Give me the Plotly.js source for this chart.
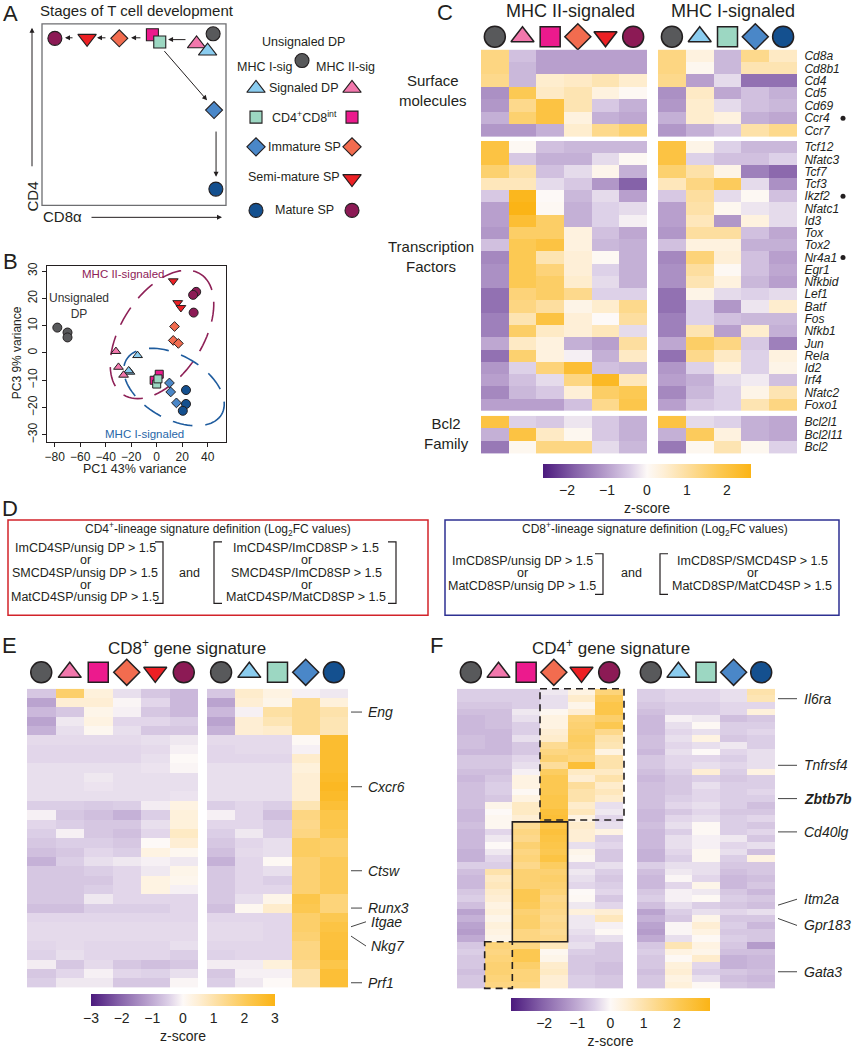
<!DOCTYPE html>
<html><head><meta charset="utf-8">
<script src="https://cdn.plot.ly/plotly-3.0.1.min.js"></script>
<style>body{margin:0;background:#fff}#chart{width:853px;height:1050px}</style>
</head><body><div id="chart"></div>
<script>
// ===================== DATA =====================
// Panel A – schematic stage positions (CD8α level, CD4 level on a 0–100 scale)
const aStageKeys = ['unsig','sigDP2','sigDP1','int2','int1','imm2','semi2','mat2','imm1','mat1'];
const aStageCD8  = [93, 84, 90, 60, 64, 42, 24.5, 7, 93.5, 94.5];
const aStageCD4  = [94.5, 89, 85, 94, 90, 92, 92, 92, 52.5, 9];
const aArrowFromCD8 = [17.4, 35.3, 54.3, 78.8, 65.8, 94.6];
const aArrowFromCD4 = [92.3, 92.3, 92.3, 91.3, 85.8, 41.5];
const aArrowToCD8   = [12.5, 29.9, 48.4, 68.5, 89.7, 94.6];
const aArrowToCD4   = [92.3, 92.3, 92.3, 91.3, 57.9, 15.8];
const aLegendRows  = ['Signaled DP','CD4<sup>+</sup>CD8<sup>int</sup>','Immature SP','Semi-mature SP','Mature SP'];
const aLegendMHCI  = ['sigDP1','int1','imm1',null,'mat1'];
const aLegendMHCII = ['sigDP2','int2','imm2','semi2','mat2'];

// Panel B – PCA
const bGroups = ['unsig','sigDP1','sigDP2','int2','int1','imm1','imm2','mat1','semi2','mat2'];
const bPC1 = [[-78,-70,-70],[-15,-21,-22],[-32,-30,-26],[2,-2],[0,1],[10,11,15.5],[14,13,17],[23,23,20.5],[13,16.5,19],[31,28.6,29]];
const bPC3 = [[9.3,7.5,5.7],[-0.9,-7,-6.5],[0.6,-5.2,-8.1],[-7.8,-10],[-11.4,-9.5],[-11,-14.3,-18.3],[9.7,4.6,3.5],[-13.6,-18.7,-21.2],[26.4,18.4,16.6],[22.4,21.3,14.8]];

// Panel C – z-scores
const cSurfaceGenes = ['Cd8a','Cd8b1','Cd4','Cd5','Cd69','Ccr4','Ccr7'];
const cTFGenes = ['Tcf12','Nfatc3','Tcf7','Tcf3','Ikzf2','Nfatc1','Id3','Tox','Tox2','Nr4a1','Egr1','Nfkbid','Lef1','Batf','Fos','Nfkb1','Jun','Rela','Id2','Irf4','Nfatc2','Foxo1'];
const cBcl2Genes = ['Bcl2l1','Bcl2l11','Bcl2'];
const cMarkedGenes = ['Ccr4','Ikzf2','Nr4a1'];
const cUnsigDP = [1.3,1.3,1.2,-1.2,-1.1,-0.8,-1.1, 2.0,2.0,1.5,0.7,-0.5,-1.0,-1.0,-1.1,-0.6,-1.3,-1.2,-1.2,-1.6,-1.6,-1.4,-1.4,-0.9,-1.6,-1.1,-1.0,-1.3,-1.0, 2.0,-0.8,-1.5];
const cMHCII = [
 [-0.6,-1.0,-1.0,-1.0,-1.0],[-0.7,-1.0,-1.0,-1.0,-1.0],[-0.7,0.5,0.6,0.8,0.5],[1.8,0.6,0.8,0.3,0.05],[1.2,2.0,0.8,-0.5,-0.8],[1.5,2.0,0.3,-0.8,-0.9],[-1.1,-0.8,0.5,1.2,1.5],
 [0.05,-0.6,-0.7,-0.7,-0.7],[-0.5,-0.8,-0.8,-0.3,0.05],[0.9,-0.6,-0.3,0.15,-0.8],[0.7,-0.3,-0.5,-1.1,-1.8],[2.5,0.0,-0.7,-0.3,-1.0],[2.6,0.05,-0.8,-0.4,-0.3],[2.2,1.6,-0.8,-0.4,-0.1],[1.6,1.6,0.3,-0.6,-0.9],[1.8,2.0,0.3,-0.7,-0.8],[1.8,0.8,0.4,0.05,-0.8],[1.8,1.4,0.4,-0.4,-0.8],[1.8,1.6,0.5,-0.3,-0.8],[1.4,1.6,1.2,-0.4,-0.4],[1.3,1.0,0.2,0.5,1.2],[0.8,2.0,0.4,0.0,1.0],[1.6,0.6,0.4,0.7,-0.3],[0.6,0.3,-0.8,-1.0,1.0],[1.5,0.3,-0.1,-0.8,0.6],[-0.4,1.4,2.2,-0.6,-0.7],[-0.6,-0.3,1.3,2.4,0.7],[-0.7,-0.5,0.4,1.6,1.8],[-1.0,-1.0,-0.6,1.2,1.9],
 [-0.4,-0.5,-0.2,-0.5,-0.8],[2.0,0.6,0.1,-0.5,-0.8],[0.1,1.3,1.3,-0.3,-0.7]];
const cMHCI = [
 [0.3,-0.7,1.2,0.6],[0.1,-0.7,0.8,0.8],[-1.0,-0.3,-1.6,-1.6],[0.6,-0.9,-0.6,-0.8],[0.5,-0.3,-0.6,-0.7],[0.5,0.3,-0.8,-0.9],[-0.8,-0.5,0.9,1.2],
 [0.2,-0.4,-0.7,-0.7],[-0.4,-0.6,-0.6,-0.4],[0.9,0.2,-1.4,-1.7],[1.3,1.7,-0.3,-1.2],[1.0,-0.3,0.05,-0.6],[0.9,0.1,-0.2,-0.3],[0.7,-1.1,0.3,-0.3],[1.0,1.0,-0.6,-0.9],[0.3,0.3,-0.8,-0.8],[1.4,0.4,-0.6,-1.0],[1.0,0.05,-0.6,-0.9],[0.8,0.3,-0.7,-1.0],[0.2,-0.3,-0.4,-0.3],[-0.4,-1.1,-0.2,0.5],[-0.4,-0.6,-0.7,-0.7],[0.8,-1.0,0.5,-0.8],[1.6,1.3,-0.5,-1.4],[1.2,0.6,-0.4,0.3],[-0.4,0.3,-0.4,0.2],[-0.8,-0.3,-0.15,-0.6],[-0.7,-0.4,0.2,0.8],[-0.5,-0.4,0.8,1.3],
 [-0.3,-0.4,-0.8,-0.9],[1.7,0.3,-0.8,-0.9],[0.1,0.8,0.1,-0.4]];

// Panel E – CD8+ gene signature z-scores
const eLabelGenes = ['Eng','Cxcr6','Ctsw','Runx3','Itgae','Nkg7','Prf1'];
const eLabelRows  = [2,10,19,23,25,26,31];
const eUnsigDP = [-0.6,-1.1,-0.8,-1.1,-0.9,-0.35,-0.4,-0.4,-0.3,-0.3,-0.3,-0.3,-0.5,-0.1,-0.4,-0.5,-0.6,-0.7,-0.9,-0.6,-0.6,-0.6,-0.6,-0.7,-0.4,-0.35,-0.35,-0.4,-0.45,-0.15,-0.6,-0.5];
const eMHCII = [[1.8,0.4,-0.3,-0.6,-0.8],[0.5,0.5,-0.05,-0.4,-0.8],[-0.6,0.2,-0.1,-0.6,-0.8],[-0.2,0.3,-0.4,-0.4,-0.5],[-0.3,0.1,-0.3,-0.6,-0.6],[-0.35,-0.35,-0.35,-0.3,-0.2],[-0.4,-0.4,-0.4,-0.35,-0.1],[-0.4,-0.4,-0.4,-0.3,0.0],[-0.3,-0.3,-0.3,-0.25,-0.05],[-0.3,-0.2,-0.3,-0.3,-0.3],[-0.3,-0.25,-0.3,-0.3,-0.3],[-0.3,-0.3,-0.3,-0.3,-0.25],[-0.5,-0.55,-0.5,-0.15,0.3],[-0.6,-0.7,-0.9,-0.5,0.4],[-0.5,-0.6,-0.6,-0.3,0.4],[-0.1,-0.6,-0.7,-0.4,0.7],[-0.5,-0.5,-0.6,0.0,0.5],[-0.6,-0.4,-0.5,0.3,0.1],[-0.5,-0.3,-0.2,-0.1,-0.2],[-0.6,-0.5,-0.4,-0.2,0.2],[-0.6,-0.6,-0.4,0.3,0.15],[-0.6,-0.5,-0.4,0.3,-0.1],[-0.6,-0.2,-0.4,-0.4,-0.4],[-0.7,-0.5,-0.5,-0.5,-0.4],[-0.4,-0.4,-0.4,-0.4,-0.4],[-0.35,-0.35,-0.35,-0.35,-0.35],[-0.35,-0.35,-0.35,-0.35,-0.35],[-0.35,-0.4,-0.4,-0.4,-0.3],[-0.3,-0.4,-0.4,-0.4,-0.5],[-0.6,-0.35,-0.6,-0.7,-0.6],[-0.4,-0.1,-0.4,-0.45,-0.3],[-0.2,-0.2,-0.6,-0.6,-0.05]];
const eMHCI = [[0.6,0.3,-0.1,-0.2],[0.5,0.2,1.3,0.4],[-0.1,1.1,1.3,1.0],[0.5,0.9,1.3,0.9],[0.5,0.6,1.3,0.9],[-0.35,-0.35,0.05,2.6],[-0.35,-0.35,-0.1,2.6],[-0.4,-0.4,0.6,2.6],[-0.3,-0.3,0.4,2.6],[-0.3,-0.3,0.5,2.7],[-0.3,-0.3,0.5,2.8],[-0.3,-0.3,0.5,2.7],[-0.4,-0.5,0.9,2.5],[-0.4,-0.7,1.5,2.2],[-0.4,-0.5,1.4,2.2],[-0.2,-0.5,1.5,2.1],[-0.4,-0.3,1.9,1.8],[-0.35,-0.3,1.9,1.8],[-0.4,0.05,1.7,2.0],[-0.4,-0.3,1.7,2.0],[-0.4,-0.5,1.7,2.0],[-0.4,-0.4,1.7,2.0],[-0.3,0.2,2.2,1.6],[0.1,0.6,2.1,1.6],[-0.4,-0.4,1.8,2.1],[-0.35,-0.4,1.8,2.3],[-0.35,-0.4,1.7,2.4],[-0.4,-0.4,1.5,2.4],[-0.4,-0.4,1.5,2.5],[-0.15,0.4,1.4,2.2],[-0.1,-0.1,1.0,2.5],[-0.2,0.0,1.0,2.5]];

// Panel F – CD4+ gene signature z-scores
const fLabelGenes = ['Il6ra','Tnfrsf4','Zbtb7b','Cd40lg','Itm2a','Gpr183','Gata3'];
const fLabelRows  = [1,11,16,21,32,34,42];
const fUnsigDP = [-0.5,-0.5,-0.6,-0.7,-0.8,-0.8,-0.8,-0.7,-0.7,-0.8,-0.6,-0.6,-0.7,-0.8,-0.7,-0.7,-0.7,-0.7,-0.8,-0.8,-0.7,-0.8,-0.8,-0.8,-0.9,-0.9,-0.5,-0.7,-0.8,-0.8,-0.6,-0.5,-0.7,-1.1,-0.9,-1.1,-1.2,-1.0,-0.6,-0.5,-0.6,-0.6,-0.7,-0.6,-0.6];
const fMHCII = [[-0.5,-0.5,-0.2,0.3,1.6],[-0.5,-0.5,-0.3,0.6,2.0],[-0.6,-0.5,-0.3,0.2,2.2],[-0.7,-0.2,0.1,0.5,2.2],[-0.7,-0.3,0.3,1.6,1.8],[-0.7,-0.5,0.3,1.7,2.1],[-0.8,-0.5,0.5,1.8,1.4],[-0.8,-0.3,0.6,1.9,1.0],[-0.8,-0.6,1.3,1.8,0.9],[-0.8,-0.6,1.5,1.6,0.3],[-0.6,-0.4,1.7,1.5,1.0],[-0.6,-0.3,1.2,2.5,1.0],[-0.7,-0.1,1.9,0.7,0.7],[-0.6,0.3,2.1,0.5,1.0],[-0.5,0.3,2.1,1.2,0.6],[-0.5,0.05,2.1,1.0,0.8],[-0.6,0.3,2.2,1.0,0.6],[0.2,0.7,2.2,0.6,-0.3],[0.0,0.7,2.4,0.8,-0.2],[0.1,0.5,2.5,0.3,-0.4],[0.1,1.3,2.2,0.6,-0.3],[-0.4,1.5,2.4,0.5,0.3],[-0.2,1.4,2.3,0.5,-0.5],[0.0,1.7,2.2,-0.3,-0.4],[-0.2,1.5,2.1,0.2,-0.6],[-0.4,1.6,2.3,0.1,-0.6],[-0.5,1.4,1.9,-0.4,-0.3],[1.0,1.7,1.7,-0.2,-0.5],[0.7,1.7,1.8,-0.3,-0.6],[0.8,1.7,1.7,-0.4,-0.5],[0.6,2.1,1.6,0.0,-0.4],[0.5,2.1,1.4,0.05,-0.6],[0.3,2.0,1.5,-0.2,-0.4],[0.4,1.7,1.4,0.4,0.5],[0.2,1.8,1.3,-0.2,0.8],[0.4,1.8,1.4,-0.2,-0.1],[0.3,1.5,1.3,-0.3,0.05],[0.2,1.5,1.4,-0.4,-0.3],[1.6,1.5,0.8,-0.3,-0.6],[1.5,2.1,0.1,-0.5,-0.6],[1.6,2.1,0.2,-0.6,-0.6],[1.7,1.8,0.6,-0.6,-0.7],[1.7,1.6,0.7,-0.6,-0.7],[1.6,1.6,0.5,-0.5,-0.6],[1.5,1.5,0.5,-0.5,-0.6]];
const fMHCI = [[-0.4,-0.4,-0.3,1.0],[-0.4,-0.4,-0.3,0.9],[-0.5,-0.5,-0.4,-0.4],[-0.5,-0.5,-0.4,0.4],[-0.1,-0.2,-0.7,-0.6],[-0.3,0.05,-0.5,-0.5],[-0.4,-0.3,-0.5,-0.4],[-0.3,0.3,-0.6,-0.5],[-0.4,-0.3,-0.2,-0.5],[-0.3,0.0,-0.4,-0.3],[-0.4,-0.4,-0.5,-0.3],[-0.4,-0.3,-0.4,-0.3],[-0.5,0.5,-0.5,0.3],[-0.6,-0.5,-0.6,-0.5],[-0.6,-0.3,-0.5,-0.5],[-0.6,-0.4,-0.5,-0.4],[-0.5,-0.4,-0.5,-0.5],[-0.4,-0.3,-0.5,-0.7],[-0.6,-0.4,-0.6,-0.6],[-0.4,-0.3,-0.5,-0.4],[-0.3,0.05,-0.5,-0.6],[-0.5,0.05,-0.5,-0.4],[-0.3,-0.1,-0.2,-0.6],[-0.3,-0.1,-0.4,-0.3],[-0.4,0.1,-0.3,-0.7],[-0.5,0.1,-0.5,0.3],[-0.3,-0.3,-0.6,-0.6],[-0.2,-0.3,-0.7,-0.6],[-0.05,-0.4,-0.8,-0.7],[-0.4,0.2,-0.8,-0.6],[-0.1,-0.2,-0.6,-0.8],[-0.1,0.05,-0.5,-0.6],[-0.3,-0.5,-0.6,-0.7],[-0.5,-0.3,-0.4,-0.3],[-0.6,0.2,-0.6,-0.6],[-0.05,0.5,-0.5,-0.8],[-0.05,0.3,-0.6,-0.6],[-0.3,0.05,-0.5,-0.6],[0.9,0.3,-0.6,-1.2],[0.3,0.2,-0.7,-0.7],[0.05,0.6,-0.9,-0.8],[0.4,-0.4,-0.9,-0.8],[0.5,-0.5,-0.6,-0.7],[0.3,-0.3,-0.7,-0.8],[0.4,0.05,-0.6,-0.7]];
const fBoxCols = [[3,5],[2,3],[1,1]];
const fBoxRows = [[0,19],[20,37],[38,44]];

// ===================== STYLE / LAYOUT =====================
const SYM = {
 unsig:{s:'circle',c:'#58595B'}, sigDP2:{s:'triangle-up',c:'#F277AC'}, int2:{s:'square',c:'#EC1A8D'},
 imm2:{s:'diamond',c:'#F26C4F'}, semi2:{s:'triangle-down',c:'#ED2024'}, mat2:{s:'circle',c:'#8C1A55'},
 sigDP1:{s:'triangle-up',c:'#8ACCEF'}, int1:{s:'square',c:'#9CD7C2'}, imm1:{s:'diamond',c:'#4A87C8'}, mat1:{s:'circle',c:'#14508F'}
};
const mhc2Cols = ['unsig','sigDP2','int2','imm2','semi2','mat2'];
const mhc1Cols = ['unsig','sigDP1','int1','imm1','mat1'];
const CS = [[0,'#4B1A7D'],[0.15,'#8460A8'],[0.3,'#B59CCB'],[0.42,'#DCCFE7'],[0.5,'#FDF9F7'],[0.58,'#FEEFD6'],[0.7,'#FDDD9B'],[0.85,'#FCC851'],[1,'#FBB416']];
const INK = '#231F20';
const W=853,H=1050;
const PX=x=>x/W, PY=y=>1-y/H;
const FONT='Liberation Sans, Arial, Helvetica, sans-serif';
const layout={width:W,height:H,margin:{l:0,r:0,t:0,b:0,pad:0},paper_bgcolor:'#fff',plot_bgcolor:'rgba(0,0,0,0)',
  showlegend:false,font:{family:FONT,color:INK,size:12},shapes:[],annotations:[]};
const traces=[];
let nAx=0;
function axes(x0,x1,y0,y1,xo,yo){
  nAx++; const s=nAx===1?'':String(nAx);
  const base={showgrid:false,zeroline:false,showticklabels:false,ticks:'',showline:false,fixedrange:true};
  layout['xaxis'+s]=Object.assign({},base,{domain:[PX(x0),PX(x1)],anchor:'y'+s},xo||{});
  layout['yaxis'+s]=Object.assign({},base,{domain:[PY(y1),PY(y0)],anchor:'x'+s},yo||{});
  return {x:'x'+s,y:'y'+s,x0,x1,y0,y1};
}
function text(x,y,t,o){layout.annotations.push(Object.assign({xref:'paper',yref:'paper',x:PX(x),y:PY(y),text:t,showarrow:false,xanchor:'center',yanchor:'middle',font:{size:12}},o||{}));}
function seg(x0,y0,x1,y1,o){layout.shapes.push(Object.assign({type:'line',xref:'paper',yref:'paper',x0:PX(x0),y0:PY(y0),x1:PX(x1),y1:PY(y1),line:{color:INK,width:1}},o||{}));}
function rect(x0,y0,x1,y1,line){layout.shapes.push({type:'rect',xref:'paper',yref:'paper',x0:PX(x0),y0:PY(y0),x1:PX(x1),y1:PY(y1),line,fillcolor:'rgba(0,0,0,0)'});}
function poly(pts,line){layout.shapes.push({type:'path',xref:'paper',yref:'paper',path:'M'+pts.map(p=>PX(p[0])+','+PY(p[1])).join(' L'),line});}
function markers(ax,xs,ys,keys,sizes,lw){
  traces.push({type:'scatter',mode:'markers',xaxis:ax.x,yaxis:ax.y,x:xs,y:ys,cliponaxis:false,hoverinfo:'skip',
    marker:{opacity:1,symbol:keys.map(k=>SYM[k].s),color:keys.map(k=>SYM[k].c),size:keys.map(k=>sizes[SYM[k].s]),line:{color:INK,width:lw}}});
}
function heat(x0,x1,y0,y1,z,zr,yo,cb){
  const nR=z.length,nC=z[0].length;
  const ax=axes(x0,x1,y0,y1,{range:[-0.5,nC-0.5]},Object.assign({range:[nR-0.5,-0.5]},yo||{}));
  const t={type:'heatmap',xaxis:ax.x,yaxis:ax.y,z,x:[...Array(nC).keys()],y:[...Array(nR).keys()],
    colorscale:CS,zmin:-zr,zmax:zr,showscale:!!cb,hoverinfo:'skip'};
  if(cb) t.colorbar=cb;
  traces.push(t);
  return Object.assign(ax,{nR,nC,rowH:(y1-y0)/nR,colW:(x1-x0)/nC});
}
function cbar(xc,ytop,len,thick,ticks){
  return {orientation:'h',x:PX(xc),xanchor:'center',y:PY(ytop),yanchor:'top',len,lenmode:'pixels',thickness:thick,
    thicknessmode:'pixels',outlinewidth:0,ticks:'',tickvals:ticks,tickfont:{size:14},
    title:{text:'z-score',side:'bottom',font:{size:14}},xpad:0,ypad:0};
}
const HDR = {circle:21,'triangle-up':20,'triangle-down':20,square:20,diamond:20};
// whole-page canvas axis (pixel coordinates) for legend / header symbols
const cv = axes(0,853,0,1050,{range:[0,853]},{range:[1050,0]});
function headerSymbols(hm,keys,yPx){
  markers(cv,keys.map((_,k)=>hm.x0+(k+0.5)*hm.colW),keys.map(()=>yPx),keys,HDR,1.5);
}

// ---------- Panel A ----------
text(10,14,'A',{font:{size:22}});
text(137,11,'Stages of T cell development',{font:{size:15}});
const aAx = axes(42,226,24,207,{range:[0,100]},{range:[0,100]});
rect(42,24,226,207,{color:'#6D6E71',width:1.3});
markers(aAx,aStageCD8,aStageCD4,aStageKeys,{circle:14,square:12,diamond:13,'triangle-up':16,'triangle-down':16},1.1);
aArrowFromCD8.forEach((_,i)=>layout.annotations.push({xref:aAx.x,yref:aAx.y,axref:aAx.x,ayref:aAx.y,
  x:aArrowToCD8[i],y:aArrowToCD4[i],ax:aArrowFromCD8[i],ay:aArrowFromCD4[i],text:'',showarrow:true,
  arrowhead:2,arrowsize:1,arrowwidth:1,arrowcolor:INK}));
layout.annotations.push({xref:'paper',yref:'paper',x:PX(32),y:PY(28),ax:0,ay:140,text:'',showarrow:true,arrowhead:2,arrowsize:1,arrowwidth:1,arrowcolor:INK});
layout.annotations.push({xref:'paper',yref:'paper',x:PX(222),y:PY(219),ax:-132,ay:0,text:'',showarrow:true,arrowhead:2,arrowsize:1,arrowwidth:1,arrowcolor:INK});
text(32,198,'CD4',{textangle:-90,font:{size:15}});
text(62,218,'CD8α',{font:{size:15}});
text(303,42,'Unsignaled DP',{font:{size:12.5}});
text(265,68,'MHC I-sig',{font:{size:12.5}});
text(345,68,'MHC II-sig',{font:{size:12.5}});
const legY=[89,118,148,180,212];
const lgX=[302],lgY=[61],lgK=['unsig'];
aLegendRows.forEach((lab,i)=>{
  text(aLegendMHCI[i]?304:294,legY[i]-(aLegendMHCI[i]?0:2),lab,{font:{size:12.5}});
  if(aLegendMHCI[i]){lgX.push(256);lgY.push(legY[i]);lgK.push(aLegendMHCI[i]);}
  lgX.push(352);lgY.push(legY[i]);lgK.push(aLegendMHCII[i]);
});
markers(cv,lgX,lgY,lgK,{circle:14,square:12,diamond:14,'triangle-up':16,'triangle-down':16},1.1);

// ---------- Panel B ----------
text(10,264,'B',{font:{size:22}});
const BX=[-86.1,54.4], BY=[-32.5,31.9];
const bAxStyle={showline:true,mirror:true,linecolor:INK,linewidth:1,ticks:'outside',ticklen:4,tickcolor:INK,showticklabels:true,tickfont:{size:12}};
const bAx = axes(47,226,268,445,Object.assign({range:BX,tickvals:[-80,-60,-40,-20,0,20,40]},bAxStyle),
                                Object.assign({range:BY,tickvals:[-30,-20,-10,0,10,20,30],tickangle:-90},bAxStyle));
const toBx=p=>BX[0]+(p-47)/(226-47)*(BX[1]-BX[0]);
const toBy=p=>BY[1]-(p-268)/(445-268)*(BY[1]-BY[0]);
function ellipse(cx,cy,a,b,ang,color,dash){
  const t=ang*Math.PI/180, pts=[];
  for(let k=0;k<=90;k++){const u=k/90*2*Math.PI, ex=a*Math.cos(u), ey=b*Math.sin(u);
    pts.push([toBx(cx+ex*Math.cos(t)-ey*Math.sin(t)), toBy(cy+ex*Math.sin(t)+ey*Math.cos(t))]);}
  layout.shapes.push({type:'path',xref:bAx.x,yref:bAx.y,layer:'below',path:'M'+pts.map(p=>p[0]+','+p[1]).join(' L'),line:{color,width:1.6,dash}});
}
ellipse(162,337,72,41,-57.7,'#8E2157','20px,12px');
ellipse(174,390,55,32,30,'#1F5C9E','20px,13px');
bGroups.forEach((g,i)=>markers(bAx,bPC1[i],bPC3[i],bPC1[i].map(()=>g),{circle:9,square:8,diamond:7.5,'triangle-up':8.5,'triangle-down':8.5},1));
text(123,276,'MHC II-signaled',{font:{size:11.5,color:'#8E2157'}});
text(79,308,'Unsignaled<br>DP',{font:{size:12,color:'#333'}});
text(144,437,'MHC I-signaled',{font:{size:11.5,color:'#2866A8'}});
text(17,356,'PC3 9% variance',{textangle:-90,font:{size:12}});
text(135,473,'PC1 43% variance',{font:{size:12.5}});

// ---------- Panel C ----------
text(445,13,'C',{font:{size:22}});
text(570,11,'MHC II-signaled',{font:{size:18}});
text(733,11,'MHC I-signaled',{font:{size:18}});
const cBlocks=[[cSurfaceGenes,50,138,433,91,'Surface<br>molecules'],[cTFGenes,142,414,431,258,'Transcription<br>Factors'],[cBcl2Genes,419,457,446,437,'Bcl2<br>Family']];
let gi=0;
cBlocks.forEach(([genes,y0,y1,lx,ly,lab],b)=>{
  const idx=genes.map((_,k)=>gi+k); gi+=genes.length;
  const zL=idx.map(i=>[cUnsigDP[i],...cMHCII[i]]);
  const zR=idx.map(i=>[cUnsigDP[i],...cMHCI[i]]);
  const L=heat(481,647,y0,y1,zL,2.6,null,b===0?cbar(647,468,208,14,[-2,-1,0,1,2]):null);
  const R=heat(658,797,y0,y1,zR,2.6,{side:'right',showticklabels:true,tickmode:'array',tickvals:genes.map((_,k)=>k),
     ticktext:genes.map(g=>'<i>'+g+'</i>'),tickfont:{size:12,color:INK},ticks:'outside',ticklen:4,tickcolor:'rgba(0,0,0,0)'});
  if(b===0){ headerSymbols(L,mhc2Cols,37); headerSymbols(R,mhc1Cols,37); }
  const mk=genes.map((g,k)=>cMarkedGenes.includes(g)?k:-1).filter(k=>k>=0);
  if(mk.length) traces.push({type:'scatter',mode:'markers',xaxis:cv.x,yaxis:cv.y,x:mk.map(()=>843),y:mk.map(k=>y0+(k+0.5)*R.rowH),
     cliponaxis:false,hoverinfo:'skip',marker:{size:5,color:INK,opacity:1}});
  text(lx,ly,lab,{font:{size:15}});
});

// ---------- Panel D ----------
text(10,512,'D',{font:{size:22}});
function bracket(x,y0,y1,dir){poly([[x+dir*8,y0],[x,y0],[x,y1],[x+dir*8,y1]],{color:INK,width:1.2});}
rect(8,524,428,620,{color:'#D2232A',width:1.5});
text(218,533,'CD4<sup>+</sup>-lineage signature definition (Log<sub>2</sub>FC values)',{font:{size:12}});
['ImCD4SP/unsig DP > 1.5','or','SMCD4SP/unsig DP > 1.5','or','MatCD4SP/unsig DP > 1.5'].forEach((t,i)=>text(85,552+i*12.5,t,{font:{size:12.5}}));
bracket(163,546,608,-1);
text(189,577,'and',{font:{size:12.5}});
bracket(214,546,608,1);
['ImCD4SP/ImCD8SP > 1.5','or','SMCD4SP/ImCD8SP > 1.5','or','MatCD4SP/MatCD8SP > 1.5'].forEach((t,i)=>text(306,552+i*12.5,t,{font:{size:12.5}}));
bracket(396,546,608,-1);
rect(445,524,839,620,{color:'#2E3192',width:1.5});
text(655,533,'CD8<sup>+</sup>-lineage signature definition (Log<sub>2</sub>FC values)',{font:{size:12}});
['ImCD8SP/unsig DP > 1.5','or','MatCD8SP/unsig DP > 1.5'].forEach((t,i)=>text(522,565+i*12.5,t,{font:{size:12.5}}));
bracket(603,558,599,-1);
text(631,577,'and',{font:{size:12.5}});
bracket(660,558,599,1);
['ImCD8SP/SMCD4SP > 1.5','or','MatCD8SP/MatCD4SP > 1.5'].forEach((t,i)=>text(752,565+i*12.5,t,{font:{size:12.5}}));

// ---------- Panel E ----------
text(9,650,'E',{font:{size:22}});
text(187,652,'CD8<sup>+</sup> gene signature',{font:{size:17}});
const EL=heat(27,198,694,995,eUnsigDP.map((u,i)=>[u,...eMHCII[i]]),3,null,cbar(183,1002,184,12,[-3,-2,-1,0,1,2,3]));
const ER=heat(207,348,694,995,eUnsigDP.map((u,i)=>[u,...eMHCI[i]]),3);
headerSymbols(EL,mhc2Cols,677.5); headerSymbols(ER,mhc1Cols,677.5);
const eDy=[0,0,0,0,-5,10,0];
eLabelGenes.forEach((g,i)=>{const yc=694+(eLabelRows[i]+0.5)*ER.rowH, yl=yc+eDy[i];
  seg(351,yc,eDy[i]?366:362,yl,{line:{color:'#444',width:1}});
  text(eDy[i]?369:366,yl,'<i>'+g+'</i>',{xanchor:'left',font:{size:14}});});

// ---------- Panel F ----------
text(436,650,'F',{font:{size:22}});
text(611,652,'CD4<sup>+</sup> gene signature',{font:{size:17}});
const FL=heat(457,623,694,996,fUnsigDP.map((u,i)=>[u,...fMHCII[i]]),3,null,cbar(610.5,1006,199,13,[-2,-1,0,1,2]));
const FR=heat(637,775,694,996,fUnsigDP.map((u,i)=>[u,...fMHCI[i]]),3);
headerSymbols(FL,mhc2Cols,677.5); headerSymbols(FR,mhc1Cols,677.5);
fBoxCols.forEach((c,i)=>{
  const x0=457+c[0]*FL.colW, x1=457+(c[1]+1)*FL.colW+(i===0?1:0);
  const y0=694+fBoxRows[i][0]*FL.rowH, y1=694+(fBoxRows[i][1]+1)*FL.rowH-(i===0?2:0);
  rect(x0,y0,x1,y1,{color:INK,width:1.6,dash:i===1?'solid':'7px,5px'});
});
const fDy=[0,0,0,0,-6,7,0];
fLabelGenes.forEach((g,i)=>{const yc=694+(fLabelRows[i]+0.5)*FR.rowH, yl=yc+fDy[i];
  seg(778,yc,797,yl,{line:{color:'#444',width:1}});
  text(802,yl,g==='Zbtb7b'?'<b><i>'+g+'</i></b>':'<i>'+g+'</i>',{xanchor:'left',font:{size:14}});});

Plotly.newPlot('chart',traces,layout,{staticPlot:true,displayModeBar:false});
</script>
</body></html>
